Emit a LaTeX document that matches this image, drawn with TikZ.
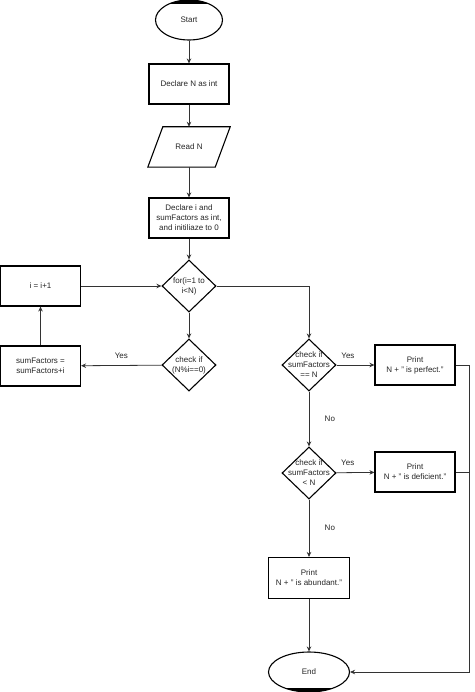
\documentclass[tikz,border=0pt]{standalone}
\usepackage{fontspec}
\setmainfont{Liberation Sans}
\usetikzlibrary{shapes.geometric,arrows.meta,calc}
\begin{document}
\begin{tikzpicture}[x=1pt,y=-1pt,
  every node/.style={font=\fontsize{8}{10}\selectfont, text=black!85, align=center},
  box/.style={draw, line width=1.1pt, rectangle, minimum width=80pt, minimum height=40pt, inner sep=1pt},
  term/.style={draw, line width=1.1pt, ellipse, minimum height=40pt, inner sep=0pt},
  dec/.style={draw, line width=1.1pt, diamond, aspect=1, minimum width=54pt, minimum height=52pt, inner sep=0pt},
  conn/.style={draw=black!80, line width=0.8pt},
  arr/.style={conn, -{Stealth[length=5pt,width=4.5pt]}},
  lab/.style={font=\fontsize{8}{10}\selectfont}
]
\useasboundingbox (0,0) rectangle (474,692);
\fill[white] (0,0) rectangle (474,692);

% nodes
\node[term, minimum width=67pt] (start) at (189,20) {Start};
\node[box] (declN) at (189,84) {Declare N as int};
\node[minimum width=67pt, minimum height=40pt, inner sep=0pt] (read) at (189,147) {Read N};
\draw[line width=1.1pt] ($(read.north west)+(7.5,0)$) -- ($(read.north east)+(7.5,0)$)
  -- ($(read.south east)+(-7.5,0)$) -- ($(read.south west)+(-7.5,0)$) -- cycle;
\node[box] (declI) at (189,218) {Declare i and\\sumFactors as int,\\and initiliaze to 0};
\node[dec, label={[lab,align=center]center:for(i=1 to\\i<N)}] (for) at (189,286) {};
\node[box] (inc) at (40.5,286) {i = i+1};
\node[dec, label={[lab,align=center]center:check if\\(N\%i==0)}] (chk) at (189,365) {};
\node[box] (sumF) at (40.5,366) {sumFactors =\\sumFactors+i};
\node[dec, label={[lab,align=center]center:check if\\sumFactors\\== N}] (pd) at (309,365) {};
\node[box] (perf) at (415,365) {Print\\N + " is perfect."};
\node[dec, label={[lab,align=center]center:check if\\sumFactors\\< N}] (dd) at (309,473) {};
\node[box] (defi) at (415,472) {Print\\N + " is deficient."};
\node[box, minimum width=81pt, minimum height=41pt] (abun) at (309,578) {Print\\N + " is abundant."};
\node[term, minimum width=81pt] (end) at (309,672) {End};

% artifacts at ellipse caps
\begin{scope}
  \clip (150,0) rectangle (230,3.5);
  \fill[black] (start.center) ellipse (33.5 and 20);
\end{scope}
\begin{scope}
  \clip (260,688.5) rectangle (360,692);
  \fill[black] (end.center) ellipse (40.5 and 20);
\end{scope}

\coordinate (rail) at (469,365);
\coordinate (railD) at (469,472);

% connectors
\draw[arr] (start) -- (declN);
\draw[arr] (declN) -- (read);
\draw[arr] (read) -- (declI);
\draw[arr] (declI) -- (for);
\draw[arr] (inc) -- (for);
\draw[arr] (for) -- (chk);
\draw[arr] (chk) -- node[lab, above, yshift=3pt] {Yes} (sumF);
\draw[arr] (sumF) -- (inc);
\draw[arr] (for.east) -| (pd.north);
\draw[arr] (pd) -- node[lab, pos=0.3, above, yshift=3pt] {Yes} (perf);
\draw[arr] (pd) -- node[lab, right, xshift=12pt] {No} (dd);
\draw[arr] (dd) -- node[lab, pos=0.3, above, yshift=3pt] {Yes} (defi);
\draw[arr] (dd) -- node[lab, right, xshift=12pt] {No} (abun);
\draw[arr] (abun) -- (end);
\draw[arr] (perf.east) -- (rail) |- (end.east);
\draw[conn] (defi.east) -- (railD);
\end{tikzpicture}
\end{document}
